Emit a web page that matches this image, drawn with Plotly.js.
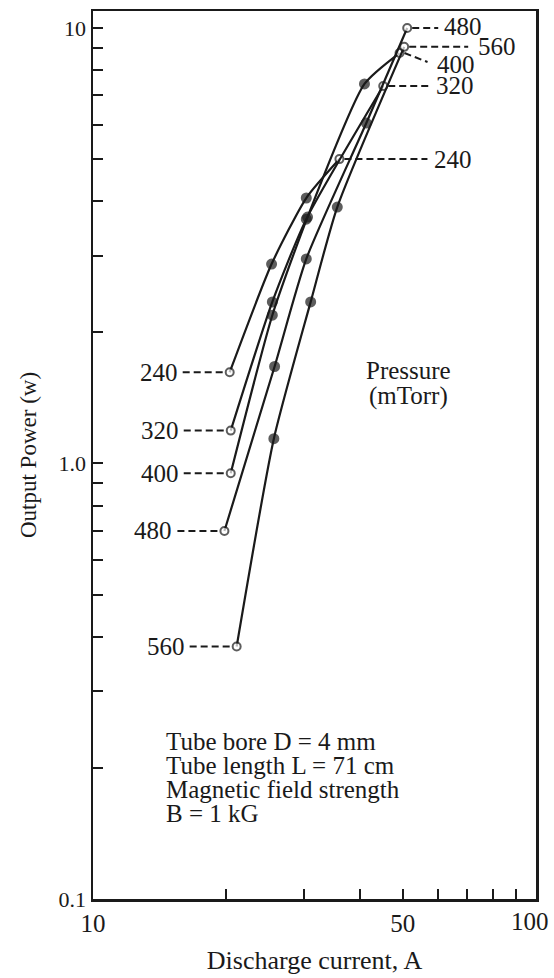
<!DOCTYPE html>
<html>
<head>
<meta charset="utf-8">
<script src="https://cdn.plot.ly/plotly-3.0.1.min.js"></script>
<style>html,body{margin:0;padding:0;background:#fff;}#chart{width:554px;height:978px;}</style>
</head>
<body>
<div id="chart"></div>
<script>
// Pressure labels (mTorr)
const pressures = ["240", "320", "400", "480", "560"];
// Discharge current (A) and output power (W) for each pressure
const current240 = [20.35, 25.3, 30.3, 36.0];
const power240   = [1.62, 2.87, 4.07, 5.0];
const current320 = [20.46, 25.4, 30.3, 45.2];
const power320   = [1.19, 2.35, 3.64, 7.36];
const current400 = [20.46, 25.4, 30.5, 41.0, 49.2];
const power400   = [0.95, 2.19, 3.68, 7.44, 8.76];
const current480 = [19.8, 25.7, 30.3, 41.4, 51.2];
const power480   = [0.70, 1.67, 2.95, 6.05, 10.0];
const current560 = [21.1, 25.6, 31.0, 35.6, 50.4];
const power560   = [0.38, 1.14, 2.35, 3.88, 9.05];

const xTickVals = [10, 20, 30, 40, 50, 60, 70, 80, 90, 100];
const xTickText = ["10", "", "", "", "50", "", "", "", "", "100"];
const yTickVals = [0.1,0.2,0.3,0.4,0.5,0.6,0.7,0.8,0.9,1,2,3,4,5,6,7,8,9,10];
const yTickText = ["0.1","","","","","","","","","1.0","","","","","","","","","10"];

const noteLines = ["Tube bore D = 4 mm", "Tube length L = 71 cm", "Magnetic field strength", "B = 1 kG"];
const legendTitleLines = ["Pressure", "(mTorr)"];

const series = [
  {p: pressures[0], x: current240, y: power240},
  {p: pressures[1], x: current320, y: power320},
  {p: pressures[2], x: current400, y: power400},
  {p: pressures[3], x: current480, y: power480},
  {p: pressures[4], x: current560, y: power560}
];

const FONT = "Liberation Serif, Times New Roman, serif";
const INK = "#1a1a1a";
const curveTraces = [];
const leaderTraces = [];
const annotations = [];

// plot area geometry (pixels)
const M = {l: 93, r: 18, t: 11, b: 79};
const plotH = 978 - M.t - M.b;
const plotW = 554 - M.l - M.r;
const X_RANGE = [1, 2];
const Y_RANGE = [-1, 1.039];
const py = p => (978 - M.b - p) / plotH;   // pixel y -> paper y
const px = p => (p - M.l) / plotW;         // pixel x -> paper x
// pixel offset -> multiplicative factor on a log axis
const fx = d => Math.pow(10, d * (X_RANGE[1] - X_RANGE[0]) / plotW);
const fy = d => Math.pow(10, -d * (Y_RANGE[1] - Y_RANGE[0]) / plotH);

// right-hand label offsets (pixels)
const rightCfg = {
  "240": {x1: 88, tx: 114, dy: 0, dyEnd: 0},
  "320": {x1: 45, tx: 72, dy: 0, dyEnd: 0},
  "400": {x1: 28, tx: 56, dy: -11, dyEnd: 9},
  "480": {x1: 31, tx: 56, dy: 1, dyEnd: 0},
  "560": {x1: 64, tx: 93, dy: 0, dyEnd: 0}
};

const leaderLine = {color: INK, width: 2, dash: "7px,4px"};

series.forEach(s => {
  const n = s.x.length;
  const isEnd = s.x.map((_, i) => i === 0 || i === n - 1);
  curveTraces.push({
    x: s.x, y: s.y, type: "scatter", mode: "lines+markers",
    line: {color: INK, width: 2.2, shape: "spline", smoothing: 0.6},
    marker: {symbol: "circle", size: isEnd.map(e => e ? 8 : 9),
             color: isEnd.map(e => e ? "#ffffff" : INK),
             line: {color: INK, width: 2}},
    showlegend: false, hoverinfo: "skip"
  });
  // left leader + label at first point
  leaderTraces.push({
    x: [s.x[0] * fx(-47), s.x[0] * fx(-5)], y: [s.y[0], s.y[0]],
    type: "scatter", mode: "lines", line: leaderLine, showlegend: false, hoverinfo: "skip"
  });
  annotations.push({x: Math.log10(s.x[0]), y: Math.log10(s.y[0]), xref: "x", yref: "y",
    text: s.p, showarrow: false, xanchor: "right", yanchor: "middle", xshift: -50, yshift: 0,
    font: {family: FONT, size: 25, color: INK}});
  // right leader + label at last point
  const c = rightCfg[s.p];
  leaderTraces.push({
    x: [s.x[n-1] * fx(5), s.x[n-1] * fx(c.x1)], y: [s.y[n-1], s.y[n-1] * fy(c.dyEnd)],
    type: "scatter", mode: "lines", line: leaderLine, showlegend: false, hoverinfo: "skip"
  });
  annotations.push({x: Math.log10(s.x[n-1]), y: Math.log10(s.y[n-1]), xref: "x", yref: "y",
    text: s.p, showarrow: false, xanchor: "center", yanchor: "middle", xshift: c.tx, yshift: c.dy,
    font: {family: FONT, size: 25, color: INK}});
});

legendTitleLines.forEach((t, i) => {
  annotations.push({x: px(408), y: py(371 + 25 * i), xref: "paper", yref: "paper", showarrow: false,
    text: t, xanchor: "center", yanchor: "middle",
    font: {family: FONT, size: 25, color: INK}});
});
noteLines.forEach((t, i) => {
  annotations.push({x: px(164), y: py(741 + 24 * i), xref: "paper", yref: "paper", showarrow: false,
    text: t, xanchor: "left", yanchor: "middle",
    font: {family: FONT, size: 25, color: INK}});
});

// the last x tick label sits at the plot edge; draw it as an annotation so it is not dropped
const lastIdx = xTickVals.length - 1;
const axisTickText = xTickText.map((t, i) => i === lastIdx ? "" : t);
annotations.push({x: Math.log10(xTickVals[lastIdx]), y: py(922), xref: "x", yref: "paper",
  text: xTickText[lastIdx], showarrow: false, xanchor: "center", yanchor: "middle", xshift: -6,
  font: {family: FONT, size: 25, color: INK}});

const layout = {
  width: 554, height: 978,
  margin: M,
  paper_bgcolor: "#ffffff", plot_bgcolor: "#ffffff",
  font: {family: FONT, color: INK, size: 22},
  xaxis: {
    type: "log", range: X_RANGE, tickvals: xTickVals, ticktext: axisTickText,
    ticks: "inside", ticklen: 10, tickwidth: 2, tickcolor: INK,
    showline: true, linecolor: INK, linewidth: 2.5, mirror: true,
    showgrid: false, zeroline: false,
    tickfont: {family: FONT, size: 25, color: INK},
    title: {text: "Discharge current, A", font: {family: FONT, size: 26, color: INK}, standoff: 16}
  },
  yaxis: {
    type: "log", range: Y_RANGE, tickvals: yTickVals, ticktext: yTickText,
    ticks: "inside", ticklen: 10, tickwidth: 2, tickcolor: INK,
    showline: true, linecolor: INK, linewidth: 2.5, mirror: true,
    showgrid: false, zeroline: false,
    tickfont: {family: FONT, size: 22, color: INK},
    title: {text: "Output Power (w)", font: {family: FONT, size: 23, color: INK}, standoff: 16}
  },
  annotations: annotations
};

Plotly.newPlot("chart", leaderTraces.concat(curveTraces), layout, {displayModeBar: false, staticPlot: true});
</script>
</body>
</html>
